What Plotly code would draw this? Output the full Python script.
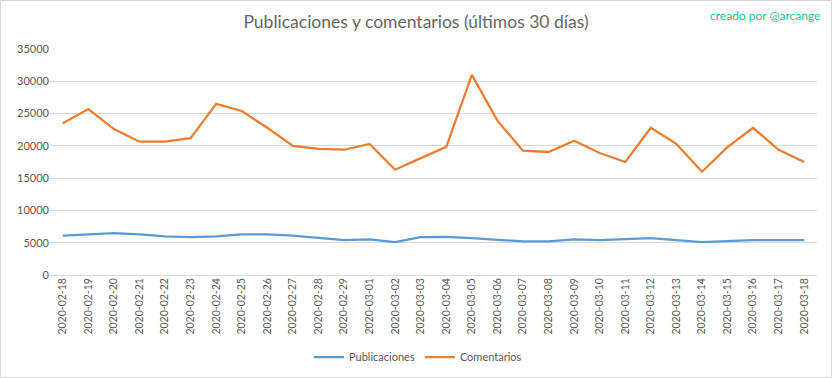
import plotly.graph_objects as go

dates = ["2020-02-18", "2020-02-19", "2020-02-20", "2020-02-21", "2020-02-22", "2020-02-23",
         "2020-02-24", "2020-02-25", "2020-02-26", "2020-02-27", "2020-02-28", "2020-02-29",
         "2020-03-01", "2020-03-02", "2020-03-03", "2020-03-04", "2020-03-05", "2020-03-06",
         "2020-03-07", "2020-03-08", "2020-03-09", "2020-03-10", "2020-03-11", "2020-03-12",
         "2020-03-13", "2020-03-14", "2020-03-15", "2020-03-16", "2020-03-17", "2020-03-18"]

publicaciones = [6100, 6300, 6500, 6300, 6000, 5850, 6000, 6300, 6300, 6100, 5800, 5400,
                 5500, 5100, 5850, 5900, 5700, 5400, 5200, 5200, 5500, 5400, 5500, 5700,
                 5400, 5100, 5250, 5400, 5400, 5400]

comentarios = [23500, 25700, 22600, 20650, 20650, 21200, 26500, 25400, 22800, 20000, 19550, 19400,
               20300, 16300, 18100, 19850, 31000, 23900, 19250, 19050, 20800, 18900, 17500, 22800,
               20300, 16000, 19800, 22800, 19400, 17500]

y_ticks = [0, 5000, 10000, 15000, 20000, 25000, 30000, 35000]

W, H = 832, 378
L, R, T, B = 50, 15, 49, 103
pw, ph = W - L - R, H - T - B

fig = go.Figure()
fig.add_trace(go.Scatter(x=dates, y=publicaciones, mode="lines", name="Publicaciones",
                         line=dict(color="#5B9BD5", width=2.25)))
fig.add_trace(go.Scatter(x=dates, y=comentarios, mode="lines", name="Comentarios",
                         line=dict(color="#ED7D31", width=2.25)))

fig.update_layout(
    width=W, height=H, autosize=False,
    margin=dict(l=L, r=R, t=T, b=B, autoexpand=False),
    paper_bgcolor="white", plot_bgcolor="white",
    font=dict(family="Lato, Open Sans, sans-serif", color="#595959"),
    title=dict(text="Publicaciones y comentarios (últimos 30 días)",
               x=0.5, xref="container", xanchor="center",
               y=1 - 22 / H, yref="container", yanchor="middle",
               font=dict(size=17.5, color="#666666")),
    showlegend=True,
    legend=dict(orientation="h", x=(418 - L) / pw, xanchor="center",
                y=(275 - 357) / ph, yanchor="middle",
                font=dict(size=11, color="#595959")),
    xaxis=dict(type="category", range=[-0.5, len(dates) - 0.5],
               tickmode="array", tickvals=dates, ticktext=dates,
               tickangle=-90, tickfont=dict(size=10.5, color="#595959"),
               showgrid=False, zeroline=False, showline=False, ticks="",
               automargin=False, fixedrange=True),
    yaxis=dict(range=[0, 35000], tickvals=y_ticks, ticktext=[str(v) for v in y_ticks],
               tickfont=dict(size=11, color="#595959"),
               showgrid=True, gridcolor="#D9D9D9", gridwidth=1,
               zeroline=True, zerolinecolor="#D9D9D9", zerolinewidth=1,
               showline=False, ticks="", automargin=False, fixedrange=True),
    annotations=[dict(text="creado por @arcange", xref="paper", yref="paper",
                      x=(822 - L) / pw, y=(275 - 15) / ph,
                      xanchor="right", yanchor="middle", showarrow=False,
                      font=dict(size=12, color="#19C39A"))],
    shapes=[dict(type="rect", xref="paper", yref="paper",
                 x0=(0.5 - L) / pw, x1=(W - 0.5 - L) / pw,
                 y0=(275 - (H - 0.5)) / ph, y1=(275 - 0.5) / ph,
                 line=dict(color="#D9D9D9", width=1), fillcolor="rgba(0,0,0,0)")],
)

fig.write_html("out.html", config={"displayModeBar": False},
               post_script="document.body.style.margin='0';document.body.style.overflow='hidden';")
